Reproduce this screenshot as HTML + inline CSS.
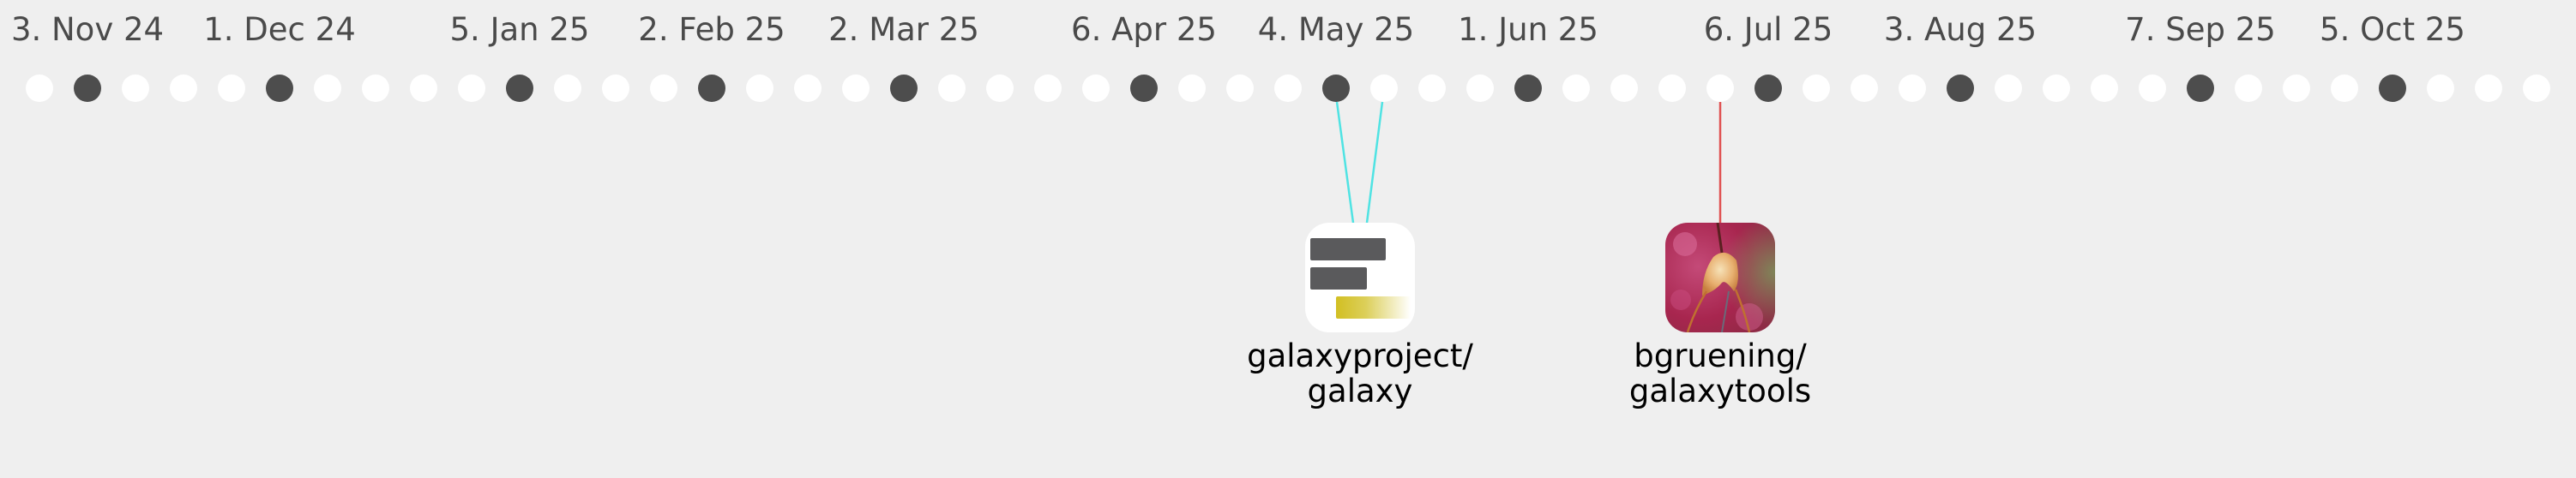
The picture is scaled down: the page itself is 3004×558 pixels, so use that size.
<!DOCTYPE html>
<html><head><meta charset="utf-8"><style>
html,body{margin:0;padding:0;background:#efefef;width:3004px;height:558px;overflow:hidden}
svg text{font-family:"DejaVu Sans","Liberation Sans",sans-serif}
</style></head><body>
<svg width="3004" height="558" xmlns="http://www.w3.org/2000/svg">
<defs>
<linearGradient id="yg" x1="0" x2="1" y1="0" y2="0"><stop offset="0" stop-color="#d2bf22"/><stop offset="0.4" stop-color="#dccf5a"/><stop offset="1" stop-color="#ffffff"/></linearGradient>
<clipPath id="cp"><rect x="1942" y="260" width="128" height="128" rx="26"/></clipPath>
<radialGradient id="bg1" cx="0.3" cy="0.4" r="0.8"><stop offset="0" stop-color="#c44a78"/><stop offset="0.6" stop-color="#a8264f"/><stop offset="1" stop-color="#8e2a45"/></radialGradient>
<radialGradient id="gr" cx="1" cy="0.45" r="0.5"><stop offset="0" stop-color="#7d8f5a" stop-opacity="0.9"/><stop offset="1" stop-color="#7d8f5a" stop-opacity="0"/></radialGradient>
<radialGradient id="fl" cx="0.5" cy="0.4" r="0.6"><stop offset="0" stop-color="#f6e2b8"/><stop offset="0.6" stop-color="#e8b070"/><stop offset="1" stop-color="#c88040"/></radialGradient>
</defs>
<g fill="#4a4a4a" font-size="37" text-anchor="middle">
<text x="102" y="47">3. Nov 24</text>
<text x="326" y="47">1. Dec 24</text>
<text x="606" y="47">5. Jan 25</text>
<text x="830" y="47">2. Feb 25</text>
<text x="1054" y="47">2. Mar 25</text>
<text x="1334" y="47">6. Apr 25</text>
<text x="1558" y="47">4. May 25</text>
<text x="1782" y="47">1. Jun 25</text>
<text x="2062" y="47">6. Jul 25</text>
<text x="2286" y="47">3. Aug 25</text>
<text x="2566" y="47">7. Sep 25</text>
<text x="2790" y="47">5. Oct 25</text>
</g>
<g id="dots"></g>
<line x1="1559" y1="119" x2="1578" y2="260" stroke="#4fe3e3" stroke-width="2.5"/>
<line x1="1612" y1="119" x2="1594" y2="260" stroke="#4fe3e3" stroke-width="2.5"/>
<line x1="2006" y1="119" x2="2006" y2="260" stroke="#e05252" stroke-width="2.5"/>
<rect x="1522" y="260" width="128" height="128" rx="28" fill="#fff"/>
<rect x="1528" y="278" width="88" height="26" rx="2" fill="#5a5a5c"/>
<rect x="1528" y="312" width="66" height="26" rx="2" fill="#5a5a5c"/>
<rect x="1558" y="346" width="87" height="26" rx="2" fill="url(#yg)"/>
<g clip-path="url(#cp)">
<rect x="1942" y="260" width="128" height="128" fill="url(#bg1)"/>
<rect x="1942" y="260" width="128" height="128" fill="url(#gr)"/>
<circle x="0" cx="1965" cy="285" r="14" fill="#d86a98" opacity="0.6"/>
<circle cx="2040" cy="370" r="16" fill="#d0608e" opacity="0.5"/>
<circle cx="1960" cy="350" r="12" fill="#c94c80" opacity="0.5"/>
<line x1="2003" y1="260" x2="2008" y2="295" stroke="#5a2020" stroke-width="3"/>
<line x1="2016" y1="340" x2="2008" y2="388" stroke="#6a6a7a" stroke-width="2"/>
<path d="M1998 300 Q2012 288 2025 304 Q2030 330 2022 340 Q2012 326 2008 330 Q2000 340 1985 345 Q1985 318 1998 300Z" fill="url(#fl)"/>
<path d="M1990 340 Q1975 365 1968 388" stroke="#c07030" stroke-width="2.5" fill="none"/>
<path d="M2024 338 Q2035 365 2040 388" stroke="#c07030" stroke-width="2.5" fill="none"/>
</g>
<g fill="#000" font-size="37" text-anchor="middle">
<text x="1586" y="428">galaxyproject/</text>
<text x="1586" y="469">galaxy</text>
<text x="2006" y="428">bgruening/</text>
<text x="2006" y="469">galaxytools</text>
</g>
</svg>
<script>
var dark=[1,5,10,14,18,23,27,31,36,40,45,49],g=document.getElementById('dots'),s='';
for(var i=0;i<53;i++){s+='<circle cx="'+(46+i*56)+'" cy="103" r="16" fill="'+(dark.indexOf(i)>=0?'#4d4d4d':'#ffffff')+'"/>';}
g.innerHTML=s;
</script>
</body></html>
